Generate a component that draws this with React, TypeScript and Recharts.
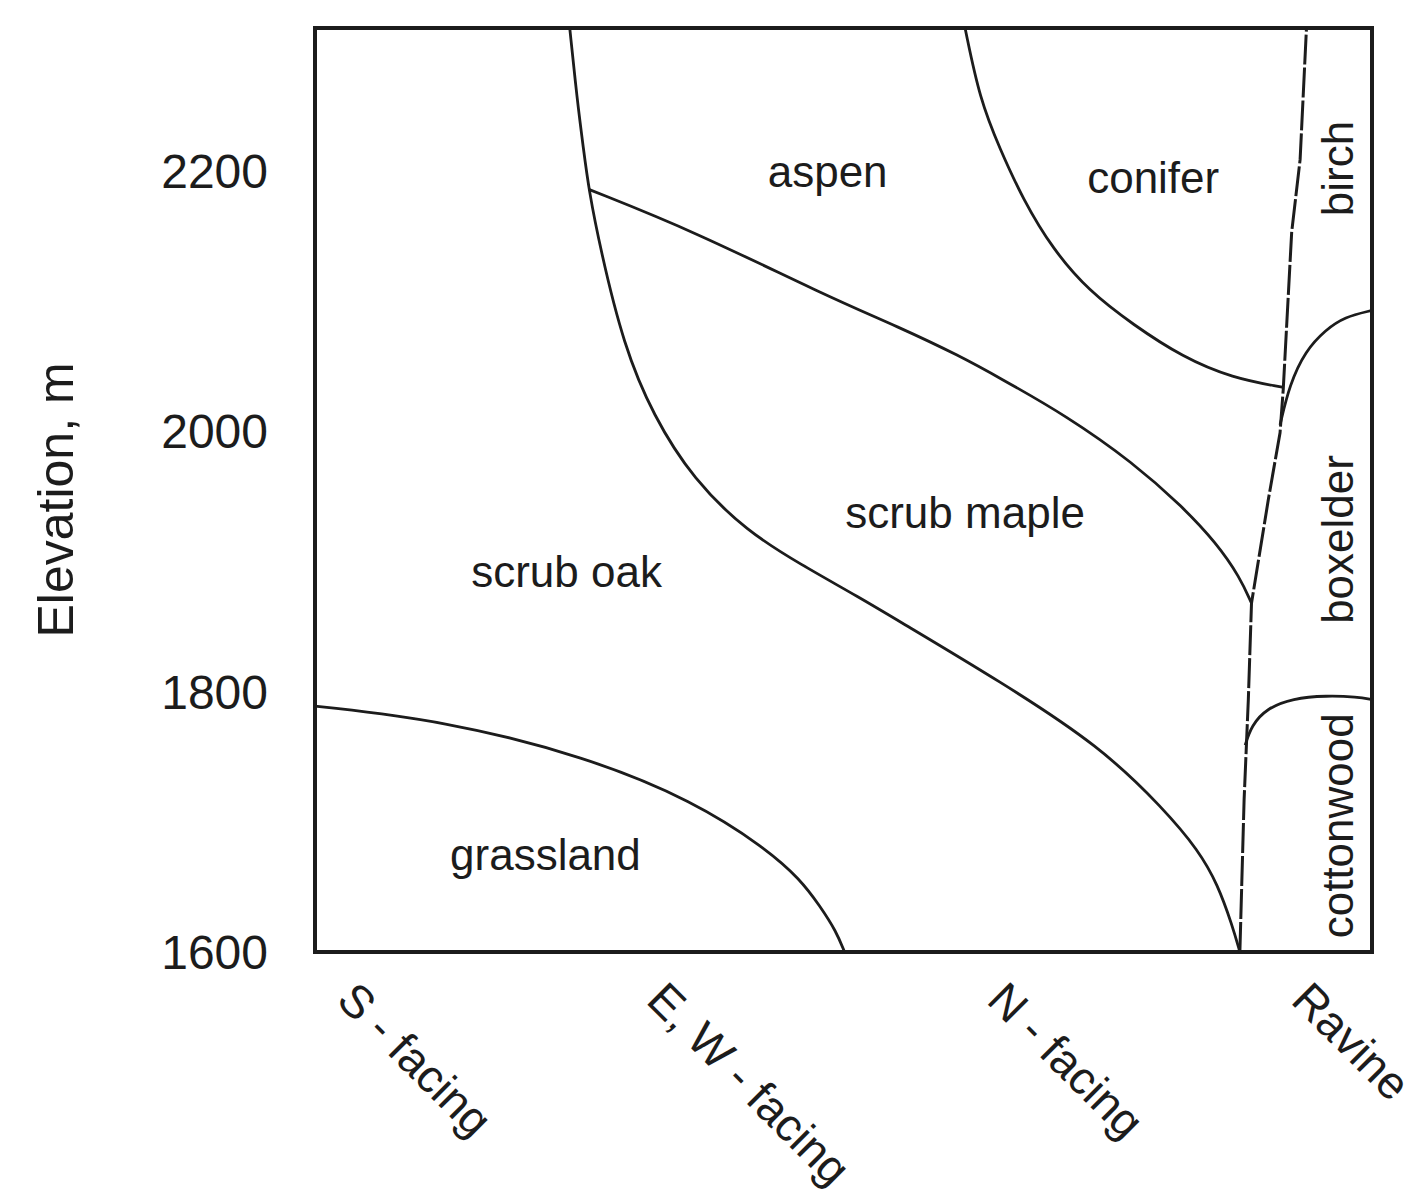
import React from 'react'
import {
  ComposedChart,
  Line,
  Scatter,
  XAxis,
  YAxis,
  ReferenceArea,
} from 'recharts'

const FONT = '"Liberation Sans", Arial, Helvetica, sans-serif'
const INK = '#1c1c1c'

// x is a moisture / exposure gradient, 0 (dry south slopes) .. 100 (ravine)
const slopeTicks = [1.9, 31.2, 63.4, 92.2]
const slopeNames = ['S - facing', 'E, W - facing', 'N - facing', 'Ravine']

const elevationTicks = [1600, 1800, 2000, 2200]

// boundaries between vegetation zones
const grasslandEdge = [
  { x: 0, y: 1789 },
  { x: 12.1, y: 1778 },
  { x: 25.7, y: 1750 },
  { x: 35.8, y: 1716 },
  { x: 42.6, y: 1680 },
  { x: 45.9, y: 1656 },
  { x: 47.8, y: 1635 },
  { x: 49.3, y: 1616 },
  { x: 50.1, y: 1600 },
]

const oakMapleEdge = [
  { x: 24.1, y: 2310 },
  { x: 24.8, y: 2255 },
  { x: 25.4, y: 2217 },
  { x: 25.9, y: 2186 },
  { x: 27.0, y: 2140 },
  { x: 29.2, y: 2066 },
  { x: 32.0, y: 2012 },
  { x: 35.8, y: 1963 },
  { x: 40.9, y: 1923 },
  { x: 45.9, y: 1898 },
  { x: 51.6, y: 1872 },
  { x: 55.3, y: 1854 },
  { x: 64.8, y: 1808 },
  { x: 74.3, y: 1758 },
  { x: 80.3, y: 1710 },
  { x: 83.6, y: 1678 },
  { x: 85.4, y: 1652 },
  { x: 86.8, y: 1620 },
  { x: 87.5, y: 1600 },
]

const aspenEdge = [
  { x: 25.9, y: 2186 },
  { x: 35.8, y: 2154 },
  { x: 48.4, y: 2104 },
  { x: 55.3, y: 2080 },
  { x: 61.0, y: 2058 },
  { x: 64.8, y: 2041 },
  { x: 71.1, y: 2012 },
  { x: 77.4, y: 1976 },
  { x: 82.1, y: 1942 },
  { x: 85.3, y: 1914 },
  { x: 87.5, y: 1888 },
  { x: 88.6, y: 1868 },
]

const coniferEdge = [
  { x: 61.5, y: 2310 },
  { x: 62.9, y: 2255 },
  { x: 64.8, y: 2217 },
  { x: 67.0, y: 2178 },
  { x: 69.8, y: 2140 },
  { x: 73.2, y: 2108 },
  { x: 77.4, y: 2082 },
  { x: 82.1, y: 2057 },
  { x: 86.8, y: 2041 },
  { x: 91.5, y: 2034 },
]

const ravineEdge = [
  { x: 87.5, y: 1600 },
  { x: 87.9, y: 1717 },
  { x: 88.3, y: 1794 },
  { x: 88.6, y: 1868 },
  { x: 90.2, y: 1948 },
  { x: 91.3, y: 1999 },
  { x: 91.6, y: 2032 },
  { x: 92.4, y: 2153 },
  { x: 93.2, y: 2209 },
  { x: 93.8, y: 2310 },
]

const birchEdge = [
  { x: 91.3, y: 2005 },
  { x: 92.2, y: 2036 },
  { x: 93.7, y: 2062 },
  { x: 95.6, y: 2078 },
  { x: 97.4, y: 2088 },
  { x: 100, y: 2093 },
]

const cottonwoodEdge = [
  { x: 88.0, y: 1759 },
  { x: 88.6, y: 1774 },
  { x: 90.0, y: 1787 },
  { x: 92.5, y: 1795 },
  { x: 95.7, y: 1797 },
  { x: 98.6, y: 1796 },
  { x: 100, y: 1794 },
]

const zoneNames = ['aspen', 'conifer', 'scrub maple', 'scrub oak', 'grassland', 'birch', 'boxelder', 'cottonwood']
const zoneX = [48.5, 79.3, 61.5, 23.8, 21.8, 96.7, 96.7, 96.7]
const zoneY = [2200, 2195, 1938, 1892, 1675, 2202, 1917, 1697]
const zoneVertical = [false, false, false, false, false, true, true, true]

const zoneLabels = zoneNames.map((name, i) => ({
  name,
  x: zoneX[i],
  y: zoneY[i],
  vertical: zoneVertical[i],
}))

const edges = [grasslandEdge, oakMapleEdge, aspenEdge, coniferEdge, birchEdge, cottonwoodEdge]

const SlopeTick = ({ x, y, index }: any) => {
  const ay = y + 50
  return (
    <text
      x={x}
      y={ay}
      transform={`rotate(45 ${x} ${ay})`}
      textAnchor="start"
      fontSize={46}
      fontFamily={FONT}
      fill={INK}
    >
      {slopeNames[index]}
    </text>
  )
}

const ZoneLabel = ({ cx, cy, payload }: any) => (
  <text
    x={cx}
    y={cy}
    dy="0.35em"
    textAnchor="middle"
    transform={payload.vertical ? `rotate(-90 ${cx} ${cy})` : undefined}
    fontSize={44}
    fontFamily={FONT}
    fill={INK}
  >
    {payload.name}
  </text>
)

const ElevationTitle = () => (
  <text
    x={47}
    y={492}
    dy="0.35em"
    textAnchor="middle"
    transform="rotate(-90 47 492)"
    fontSize={50}
    fontFamily={FONT}
    fill={INK}
  >
    Elevation, m
  </text>
)

export default function App() {
  return (
    <ComposedChart
      width={1412}
      height={1191}
      margin={{ top: 20, right: 48, bottom: 0, left: 0 }}
    >
      <XAxis
        type="number"
        dataKey="x"
        domain={[0, 100]}
        ticks={slopeTicks}
        interval={0}
        height={247}
        axisLine={false}
        tickLine={false}
        tickSize={0}
        tickMargin={0}
        tick={<SlopeTick />}
      />
      <YAxis
        type="number"
        dataKey="y"
        domain={[1600, 2310]}
        ticks={elevationTicks}
        interval={0}
        width={307}
        axisLine={false}
        tickLine={false}
        tickSize={0}
        tickMargin={47}
        tick={{ fontSize: 48, fontFamily: FONT, fill: INK }}
        label={<ElevationTitle />}
      />
      <ReferenceArea
        x1={0}
        x2={100}
        y1={1600}
        y2={2310}
        stroke={INK}
        strokeWidth={4}
        fill="none"
        fillOpacity={0}
      />
      {edges.map((d, i) => (
        <Line
          key={i}
          data={d}
          dataKey="y"
          type="basis"
          stroke={INK}
          strokeWidth={2.8}
          dot={false}
          activeDot={false}
          isAnimationActive={false}
        />
      ))}
      <Line
        data={ravineEdge}
        dataKey="y"
        type="linear"
        stroke={INK}
        strokeWidth={3}
        strokeDasharray="30 3"
        dot={false}
        activeDot={false}
        isAnimationActive={false}
      />
      <Scatter
        data={zoneLabels}
        dataKey="y"
        shape={<ZoneLabel />}
        isAnimationActive={false}
      />
    </ComposedChart>
  )
}
